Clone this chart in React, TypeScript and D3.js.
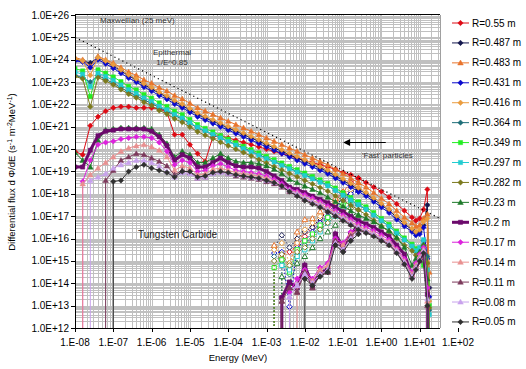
import * as d3 from 'd3';

// log10(E / MeV) of the main energy grid
const energyExp = [
  -8.0, -7.8, -7.6, -7.4, -7.2, -7.0, -6.8, -6.6, -6.4, -6.2,
  -6.0, -5.8, -5.6, -5.4, -5.2, -5.0, -4.8, -4.6, -4.4, -4.2,
  -4.0, -3.8, -3.6, -3.4, -3.2, -3.0, -2.8, -2.6, -2.4, -2.2,
  -2.0, -1.8, -1.6, -1.4, -1.2, -1.0, -0.8, -0.6, -0.4, -0.2,
  0.0, 0.2, 0.4, 0.6, 0.8, 0.9, 1.0, 1.1, 1.2, 1.25, 1.3,
];
// second (tail) block, log10(E / MeV)
const tailExp = [-3.0, -2.8, -2.6, -2.4, -2.2, -2.0, -1.8, -1.6, -1.4, -1.2, -1.0, -0.8, -0.6];

// log10 of flux, 0 = no flux
const fluxR055 = [19.90, 19.75, 21.05, 21.45, 21.70, 21.85, 21.90, 21.90, 21.85, 21.85, 21.85, 21.80, 21.65, 20.65, 20.65, 20.20, 19.80, 19.45, 20.55, 20.60, 20.50, 20.40, 20.30, 20.20, 20.10, 20.00, 19.90, 19.80, 19.70, 19.60, 19.50, 19.40, 19.30, 19.20, 19.10, 18.95, 18.85, 18.70, 18.50, 18.30, 18.10, 17.85, 17.55, 17.25, 16.95, 16.80, 16.90, 17.30, 18.20, 0, 0];
const fluxR0487 = [24.00, 23.95, 23.85, 24.10, 23.90, 23.72, 23.50, 23.28, 23.10, 22.88, 22.70, 22.50, 22.33, 22.12, 21.95, 21.75, 21.55, 21.40, 21.25, 21.10, 20.95, 20.80, 20.65, 20.50, 20.35, 20.20, 20.05, 19.90, 19.75, 19.60, 19.45, 19.30, 19.15, 19.00, 18.80, 18.60, 18.40, 18.20, 18.00, 17.75, 17.50, 17.25, 16.95, 16.65, 16.40, 16.25, 16.30, 16.60, 17.50, 13.80, 0];
const fluxR0483 = [24.10, 24.00, 23.70, 24.15, 24.00, 23.85, 23.65, 23.45, 23.30, 23.10, 22.95, 22.75, 22.60, 22.40, 22.25, 22.05, 21.85, 21.70, 21.55, 21.40, 21.25, 21.10, 20.95, 20.80, 20.65, 20.50, 20.35, 20.20, 20.05, 19.90, 19.75, 19.60, 19.45, 19.30, 19.10, 18.90, 18.70, 18.50, 18.30, 18.05, 17.80, 17.55, 17.25, 16.95, 16.70, 16.55, 16.60, 16.90, 17.10, 14.50, 0];
const fluxR0431 = [23.95, 23.90, 23.65, 24.00, 23.82, 23.62, 23.40, 23.18, 23.00, 22.78, 22.60, 22.40, 22.23, 22.02, 21.85, 21.65, 21.45, 21.30, 21.15, 21.00, 20.85, 20.70, 20.55, 20.40, 20.25, 20.10, 19.95, 19.80, 19.65, 19.50, 19.35, 19.20, 19.05, 18.90, 18.70, 18.50, 18.30, 18.10, 17.90, 17.65, 17.40, 17.15, 16.85, 16.55, 16.30, 16.15, 16.20, 16.50, 15.10, 13.40, 0];
const fluxR0416 = [24.05, 23.95, 23.30, 24.10, 23.95, 23.78, 23.55, 23.33, 23.15, 22.93, 22.76, 22.55, 22.39, 22.18, 22.02, 21.82, 21.62, 21.47, 21.32, 21.17, 21.02, 20.87, 20.72, 20.57, 20.42, 20.27, 20.12, 19.97, 19.82, 19.67, 19.52, 19.37, 19.22, 19.07, 18.87, 18.67, 18.47, 18.27, 18.07, 17.82, 17.57, 17.32, 17.02, 16.72, 16.45, 16.30, 16.40, 16.75, 16.90, 13.20, 0];
const fluxR0364 = [23.30, 23.20, 23.00, 23.30, 23.12, 22.95, 22.75, 22.55, 22.40, 22.20, 22.05, 21.85, 21.70, 21.50, 21.35, 21.15, 20.95, 20.80, 20.65, 20.50, 20.35, 20.20, 20.05, 19.90, 19.75, 19.60, 19.45, 19.30, 19.15, 19.00, 18.85, 18.70, 18.55, 18.38, 18.16, 17.94, 17.72, 17.50, 17.30, 17.05, 16.80, 16.55, 16.25, 15.95, 15.65, 15.45, 15.55, 15.90, 15.20, 12.80, 0];
const fluxR0349 = [23.60, 23.50, 22.35, 23.55, 23.40, 23.23, 23.02, 22.81, 22.65, 22.44, 22.28, 22.07, 21.91, 21.70, 21.54, 21.33, 21.10, 20.93, 20.77, 20.61, 20.45, 20.29, 20.13, 19.98, 19.83, 19.68, 19.53, 19.38, 19.23, 19.08, 18.93, 18.78, 18.63, 18.47, 18.26, 18.05, 17.84, 17.63, 17.42, 17.16, 16.90, 16.64, 16.33, 16.03, 15.75, 15.55, 15.30, 14.80, 14.00, 13.00, 0];
const fluxR0297 = [23.45, 23.35, 22.80, 23.40, 23.25, 23.08, 22.87, 22.66, 22.50, 22.29, 22.13, 21.92, 21.76, 21.55, 21.39, 21.18, 20.98, 20.82, 20.66, 20.50, 20.34, 20.18, 20.02, 19.87, 19.72, 19.57, 19.42, 19.27, 19.12, 18.97, 18.82, 18.67, 18.52, 18.36, 18.15, 17.94, 17.73, 17.52, 17.31, 17.05, 16.80, 16.54, 16.24, 15.94, 15.66, 15.46, 15.60, 15.95, 14.60, 12.60, 0];
const fluxR0282 = [23.25, 23.15, 21.90, 23.20, 23.05, 22.88, 22.67, 22.46, 22.30, 22.10, 21.95, 21.73, 21.57, 21.36, 21.20, 20.99, 20.78, 20.62, 20.47, 20.31, 20.15, 20.00, 19.85, 19.69, 19.53, 19.38, 19.22, 19.07, 18.91, 18.76, 18.60, 18.44, 18.28, 18.12, 17.91, 17.70, 17.49, 17.28, 17.07, 16.81, 16.55, 16.30, 16.00, 15.70, 15.45, 15.25, 15.35, 15.70, 14.90, 12.90, 0];
const fluxR023 = [19.85, 19.50, 19.20, 20.40, 20.85, 20.90, 20.95, 20.95, 20.95, 20.95, 20.90, 20.65, 20.25, 19.65, 19.90, 19.75, 19.40, 19.40, 19.60, 19.80, 19.60, 19.45, 19.40, 19.40, 19.35, 19.25, 19.10, 18.90, 18.65, 18.50, 18.35, 18.20, 18.05, 17.85, 17.65, 17.45, 17.25, 17.05, 16.90, 16.75, 16.55, 16.35, 16.05, 15.60, 14.80, 15.10, 15.40, 15.70, 14.20, 0, 0];
const fluxR02 = [19.20, 19.20, 19.95, 20.60, 20.80, 20.85, 20.90, 20.90, 20.90, 20.90, 20.80, 20.55, 20.15, 19.50, 19.75, 19.60, 19.20, 19.20, 19.40, 19.60, 19.40, 19.25, 19.20, 19.20, 19.15, 19.00, 18.80, 18.60, 18.30, 18.20, 18.05, 17.90, 17.75, 17.60, 17.40, 17.20, 17.00, 16.80, 16.65, 16.50, 16.30, 16.10, 15.70, 15.30, 14.30, 14.70, 15.00, 15.30, 13.50, 0, 0];
const fluxR017 = [0, 18.55, 19.50, 20.20, 20.30, 20.35, 20.45, 20.50, 20.55, 20.55, 20.50, 20.30, 19.90, 19.30, 19.50, 19.40, 19.00, 19.05, 19.25, 19.35, 19.20, 19.05, 19.00, 18.95, 18.90, 18.80, 18.65, 18.45, 18.20, 18.10, 17.95, 17.80, 17.65, 17.45, 17.25, 17.05, 16.85, 16.65, 16.50, 16.35, 16.15, 15.95, 15.55, 15.10, 14.50, 14.90, 15.30, 15.60, 13.80, 0, 0];
const fluxR014 = [0, 18.45, 18.85, 19.15, 19.40, 19.65, 19.90, 20.05, 20.15, 20.20, 20.10, 19.95, 19.65, 19.05, 19.25, 19.15, 18.85, 18.90, 19.10, 19.15, 19.05, 18.95, 18.90, 18.85, 18.80, 18.70, 18.55, 18.35, 18.15, 18.05, 17.85, 17.70, 17.55, 17.35, 17.15, 16.95, 16.75, 16.55, 16.40, 16.25, 16.05, 15.85, 15.50, 15.00, 14.40, 14.80, 15.20, 15.50, 13.20, 0, 0];
const fluxR011 = [0, 0, 0, 0, 18.60, 19.05, 19.50, 19.65, 19.80, 19.75, 19.60, 19.45, 19.25, 18.85, 19.05, 18.95, 18.70, 18.75, 18.95, 19.00, 18.90, 18.80, 18.75, 18.70, 18.65, 18.55, 18.45, 18.30, 18.10, 17.95, 17.75, 17.60, 17.45, 17.25, 17.05, 16.85, 16.65, 16.45, 16.30, 16.15, 15.95, 15.75, 15.40, 14.90, 14.30, 14.70, 15.10, 15.40, 13.00, 0, 0];
const fluxR008 = [0, 0, 18.60, 18.75, 18.90, 19.15, 19.30, 19.40, 19.50, 19.50, 19.40, 19.25, 19.00, 18.75, 18.95, 18.90, 18.70, 18.75, 18.90, 18.95, 18.90, 18.85, 18.80, 18.75, 18.70, 18.60, 18.50, 18.35, 18.15, 18.00, 17.80, 17.65, 17.50, 17.30, 17.10, 16.90, 16.70, 16.50, 16.35, 16.20, 16.00, 15.80, 15.45, 14.95, 14.30, 14.70, 15.10, 15.45, 13.30, 0, 0];
const fluxR005 = [0, 0, 0, 0, 0, 18.55, 18.60, 19.00, 19.20, 19.30, 19.15, 19.05, 18.95, 18.75, 19.00, 19.00, 18.75, 18.80, 18.95, 19.00, 18.95, 18.85, 18.80, 18.75, 18.70, 18.60, 18.50, 18.35, 18.10, 17.90, 17.70, 17.55, 17.40, 17.20, 17.00, 16.80, 16.60, 16.40, 16.25, 16.10, 15.90, 15.70, 15.35, 14.85, 14.20, 14.60, 15.00, 15.35, 13.00, 0, 0];

const tailR055 = [0, 0, 15.30, 15.40, 15.70, 16.10, 16.50, 16.90, 17.30, 17.70, 18.10, 18.50, 18.70];
const tailR0487 = [0, 15.60, 16.15, 15.60, 16.00, 16.30, 16.50, 16.90, 17.20, 17.50, 17.80, 18.10, 18.20];
const tailR0483 = [0, 15.70, 15.20, 14.70, 16.30, 16.85, 16.90, 17.20, 17.50, 17.80, 18.10, 18.40, 18.50];
const tailR0431 = [0, 15.35, 15.40, 12.95, 15.60, 15.90, 16.30, 16.70, 17.00, 17.40, 17.70, 18.00, 18.10];
const tailR0416 = [0, 15.50, 15.80, 14.90, 15.80, 16.40, 16.70, 17.00, 17.30, 17.60, 17.90, 18.20, 18.27];
const tailR0364 = [0, 15.20, 15.00, 14.40, 15.30, 15.70, 16.10, 16.50, 16.80, 17.10, 17.30, 17.50, 17.50];
const tailR0349 = [0, 14.70, 15.05, 14.50, 15.50, 15.90, 16.20, 16.60, 16.95, 17.35, 17.50, 17.70, 17.63];
const tailR0297 = [0, 0, 14.80, 14.60, 15.20, 15.50, 15.90, 16.30, 16.70, 17.00, 17.30, 17.50, 17.52];
const tailR0282 = [0, 15.00, 15.30, 14.80, 15.40, 15.60, 16.00, 16.40, 16.70, 17.00, 17.20, 17.35, 17.28];
const tailR023 = [0, 0, 14.30, 14.00, 14.90, 15.20, 15.60, 16.00, 16.30, 16.60, 16.90, 17.10, 17.05];
const tailR02 = [0, 0, 13.35, 14.05, 13.80, 14.80, 13.90, 14.50, 14.60, 16.20, 15.60, 16.20, 16.60];
const tailR017 = [0, 0, 0, 13.60, 14.20, 14.60, 14.20, 14.70, 14.90, 16.00, 15.80, 16.30, 16.50];
const tailR014 = [0, 0, 0, 0, 13.90, 14.50, 14.10, 14.60, 14.80, 15.90, 15.70, 16.20, 16.40];
const tailR011 = [0, 0, 13.20, 13.80, 13.60, 14.50, 13.80, 14.40, 14.50, 15.90, 15.50, 16.10, 16.40];
const tailR008 = [0, 0, 0, 13.40, 13.90, 14.40, 14.00, 14.40, 14.60, 15.80, 15.50, 16.00, 16.30];
const tailR005 = [0, 0, 0, 0, 0, 14.20, 13.90, 14.30, 14.50, 15.70, 15.40, 15.90, 16.20];

const seriesLabels = ['R=0.55 m', 'R=0.487 m', 'R=0.483 m', 'R=0.431 m', 'R=0.416 m', 'R=0.364 m', 'R=0.349 m', 'R=0.297 m',
  'R=0.282 m', 'R=0.23 m', 'R=0.2 m', 'R=0.17 m', 'R=0.14 m', 'R=0.11 m', 'R=0.08 m', 'R=0.05 m'];
const mainFlux = [fluxR055, fluxR0487, fluxR0483, fluxR0431, fluxR0416, fluxR0364, fluxR0349, fluxR0297,
  fluxR0282, fluxR023, fluxR02, fluxR017, fluxR014, fluxR011, fluxR008, fluxR005];
const tailFlux = [tailR055, tailR0487, tailR0483, tailR0431, tailR0416, tailR0364, tailR0349, tailR0297,
  tailR0282, tailR023, tailR02, tailR017, tailR014, tailR011, tailR008, tailR005];
const seriesColors = ['#DD0A14', '#14184E', '#E8742C', '#0A0ACC', '#EA9C3E', '#1E6E78', '#22EE22', '#22CCD0',
  '#7C7A1E', '#1E7A2A', '#6C0A6C', '#DC22DC', '#E89090', '#7C3A5C', '#C8A2EC', '#303030'];
const seriesShapes = ['diamond', 'diamond', 'triangle', 'diamond', 'diamond', 'diamond', 'square', 'square',
  'diamond', 'triangle', 'square', 'diamond', 'triangle', 'triangle', 'triangle', 'diamond'];

// 1/E^0.85 guide line, [log10 E, log10 flux]
const epithermalLine = [[-8, 25], [1.5, 16.925]];

const W = 526;
const H = 369;
const left = 75;
const right = 440;
const top = 15;
const bottom = 328;

const x = d3.scaleLog().domain([1e-8, 1e2]).range([75, 458]);
const y = d3.scaleLog().domain([1e12, 1e26]).range([bottom, top]);

const shapePath: Record<string, string> = {
  diamond: 'M0,-2.7L2.7,0L0,2.7L-2.7,0Z',
  triangle: 'M0,-2.8L2.8,2.1L-2.8,2.1Z',
  square: 'M-2.1,-2.1H2.1V2.1H-2.1Z',
};

type P = { px: number; py: number; real: boolean };

function project(exps: number[], vals: number[]): P[] {
  return vals.map((v, i) => {
    if (v > 0) return { px: x(10 ** exps[i]), py: y(10 ** v), real: true };
    let j = i - 1;
    while (j >= 0 && !(vals[j] > 0)) j--;
    if (j < 0) {
      j = i + 1;
      while (j < vals.length && !(vals[j] > 0)) j++;
    }
    const k = j >= 0 && j < vals.length ? j : i;
    return { px: x(10 ** exps[k]), py: bottom + 40, real: false };
  });
}

const line = d3.line<P>().x(d => d.px).y(d => d.py);

const xGrid: number[] = [];
for (let d = -8; d <= 1; d++) for (let k = 1; k <= 9; k++) {
  const v = k * 10 ** d;
  if (x(v) <= right + 0.5) xGrid.push(v);
}
const yGrid: number[] = [];
for (let d = 12; d <= 25; d++) for (let k = 1; k <= 9; k++) yGrid.push(k * 10 ** d);

const xTicks = d3.range(-8, 3).map(d => 10 ** d);
const yTicks = d3.range(12, 27).map(d => 10 ** d);
const fmtX = (v: number) => {
  const e = Math.round(Math.log10(v));
  return `1.E${e < 0 ? '-' : '+'}${String(Math.abs(e)).padStart(2, '0')}`;
};
const fmtY = (v: number) => `1.0E+${Math.round(Math.log10(v))}`;

const font = "'Liberation Sans', Arial, sans-serif";
const snap = (v: number) => Math.round(v) + 0.5;

export default function App() {
  const isLower = (i: number) => i >= 10;
  return (
    <svg width={W} height={H} style={{ position: 'absolute', left: 0, top: 0, display: 'block' }} fontFamily={font}>
      <defs>
        <clipPath id="plotClip">
          <rect x={left} y={top} width={right - left} height={bottom - top} />
        </clipPath>
      </defs>
      <rect width={W} height={H} fill="#fff" />

      <g stroke="#C0C0C0" strokeWidth={1}>
        {xGrid.map((v, i) => (
          <line key={'gx' + i} x1={snap(x(v))} x2={snap(x(v))} y1={top} y2={bottom} />
        ))}
        {yGrid.map((v, i) => (
          <line key={'gy' + i} x1={left} x2={right} y1={snap(y(v))} y2={snap(y(v))} />
        ))}
      </g>
      <line x1={snap(right)} x2={snap(right)} y1={top} y2={bottom} stroke="#A0A0A0" />

      <g clipPath="url(#plotClip)">
        {tailFlux.map((vals, i) => {
          const pts = project(tailExp, vals);
          const lower = isLower(i);
          return (
            <g key={'t' + i}>
              <path d={line(pts) || ''} fill="none" stroke={seriesColors[i]}
                strokeWidth={i === 10 ? 3 : 1} strokeDasharray={lower ? undefined : '1.5,2'} />
              {pts.filter(p => p.real).map((p, j) => (
                <path key={j} d={shapePath[seriesShapes[i]]} transform={`translate(${p.px},${p.py})`}
                  fill={lower ? seriesColors[i] : '#fff'} stroke={seriesColors[i]} strokeWidth={1} />
              ))}
            </g>
          );
        })}
        {mainFlux.map((vals, i) => {
          const pts = project(energyExp, vals);
          return (
            <g key={'m' + i}>
              <path d={line(pts) || ''} fill="none" stroke={seriesColors[i]} strokeWidth={i === 10 ? 3 : 1} />
              {pts.filter(p => p.real).map((p, j) => (
                <path key={j} d={shapePath[seriesShapes[i]]} transform={`translate(${p.px},${p.py})`}
                  fill={seriesColors[i]} stroke={seriesColors[i]} strokeWidth={0.5} />
              ))}
            </g>
          );
        })}
        <path d={d3.line()(epithermalLine.map(([e, f]) => [x(10 ** e), y(10 ** f)] as [number, number])) || ''}
          fill="none" stroke="#000" strokeWidth={1.2} strokeDasharray="1.2,3.2" />
      </g>

      {/* annotations */}
      <g fontSize={8} fill="#333">
        <text x={100} y={23}>Maxwellian (25 meV)</text>
        <text x={172} y={55} textAnchor="middle">Epithermal</text>
        <text x={172} y={65} textAnchor="middle">1/E^0.85</text>
        <text x={362} y={158}>'Fast' particles</text>
      </g>
      <text x={138} y={238} fontSize={10} fill="#222">Tungsten Carbide</text>
      <line x1={x(1.3)} x2={x(0.1) + 5} y1={snap(y(2.1e20))} y2={snap(y(2.1e20))} stroke="#000" strokeWidth={1} />
      <path d={`M${x(0.1)},${snap(y(2.1e20))}l7,-3.5v7Z`} fill="#000" />

      {/* axes */}
      <g stroke="#000" strokeWidth={1}>
        <line x1={left} x2={right} y1={snap(top) - 1} y2={snap(top) - 1} />
        <line x1={snap(left)} x2={snap(left)} y1={top - 1} y2={bottom} />
        <line x1={left} x2={right} y1={snap(bottom)} y2={snap(bottom)} />
        {yTicks.map((v, i) => (
          <line key={'yt' + i} x1={left - 4} x2={left} y1={snap(y(v))} y2={snap(y(v))} />
        ))}
        {xTicks.map((v, i) => (
          <line key={'xt' + i} x1={snap(x(v))} x2={snap(x(v))} y1={bottom} y2={bottom + 4} />
        ))}
      </g>
      <g fontSize={10} fill="#000">
        {yTicks.map((v, i) => (
          <text key={'yl' + i} x={69} y={y(v) + 3.5} textAnchor="end">{fmtY(v)}</text>
        ))}
        {xTicks.map((v, i) => (
          <text key={'xl' + i} x={x(v)} y={346} textAnchor="middle">{fmtX(v)}</text>
        ))}
      </g>

      <text x={238} y={361} fontSize={9.5} textAnchor="middle">Energy (MeV)</text>
      <text transform="translate(15,172) rotate(-90)" fontSize={9.5} textAnchor="middle">
        Differential flux d Φ/dE (s<tspan dy={-3} fontSize={7}>-1</tspan>
        <tspan dy={3}> m</tspan><tspan dy={-3} fontSize={7}>-2</tspan>
        <tspan dy={3}>MeV</tspan><tspan dy={-3} fontSize={7}>-1</tspan><tspan dy={3}>)</tspan>
      </text>

      {/* legend */}
      {seriesLabels.map((lab, i) => {
        const ly = 23 + i * 19.93;
        return (
          <g key={'lg' + i}>
            <line x1={452} x2={469} y1={ly} y2={ly} stroke={seriesColors[i]} strokeWidth={i === 10 ? 3 : 1} />
            <path d={shapePath[seriesShapes[i]]} transform={`translate(460.5,${ly})`}
              fill={seriesColors[i]} stroke={seriesColors[i]} strokeWidth={0.5} />
            <text x={472} y={ly + 3.5} fontSize={10} fill="#000">{lab}</text>
          </g>
        );
      })}
    </svg>
  );
}
